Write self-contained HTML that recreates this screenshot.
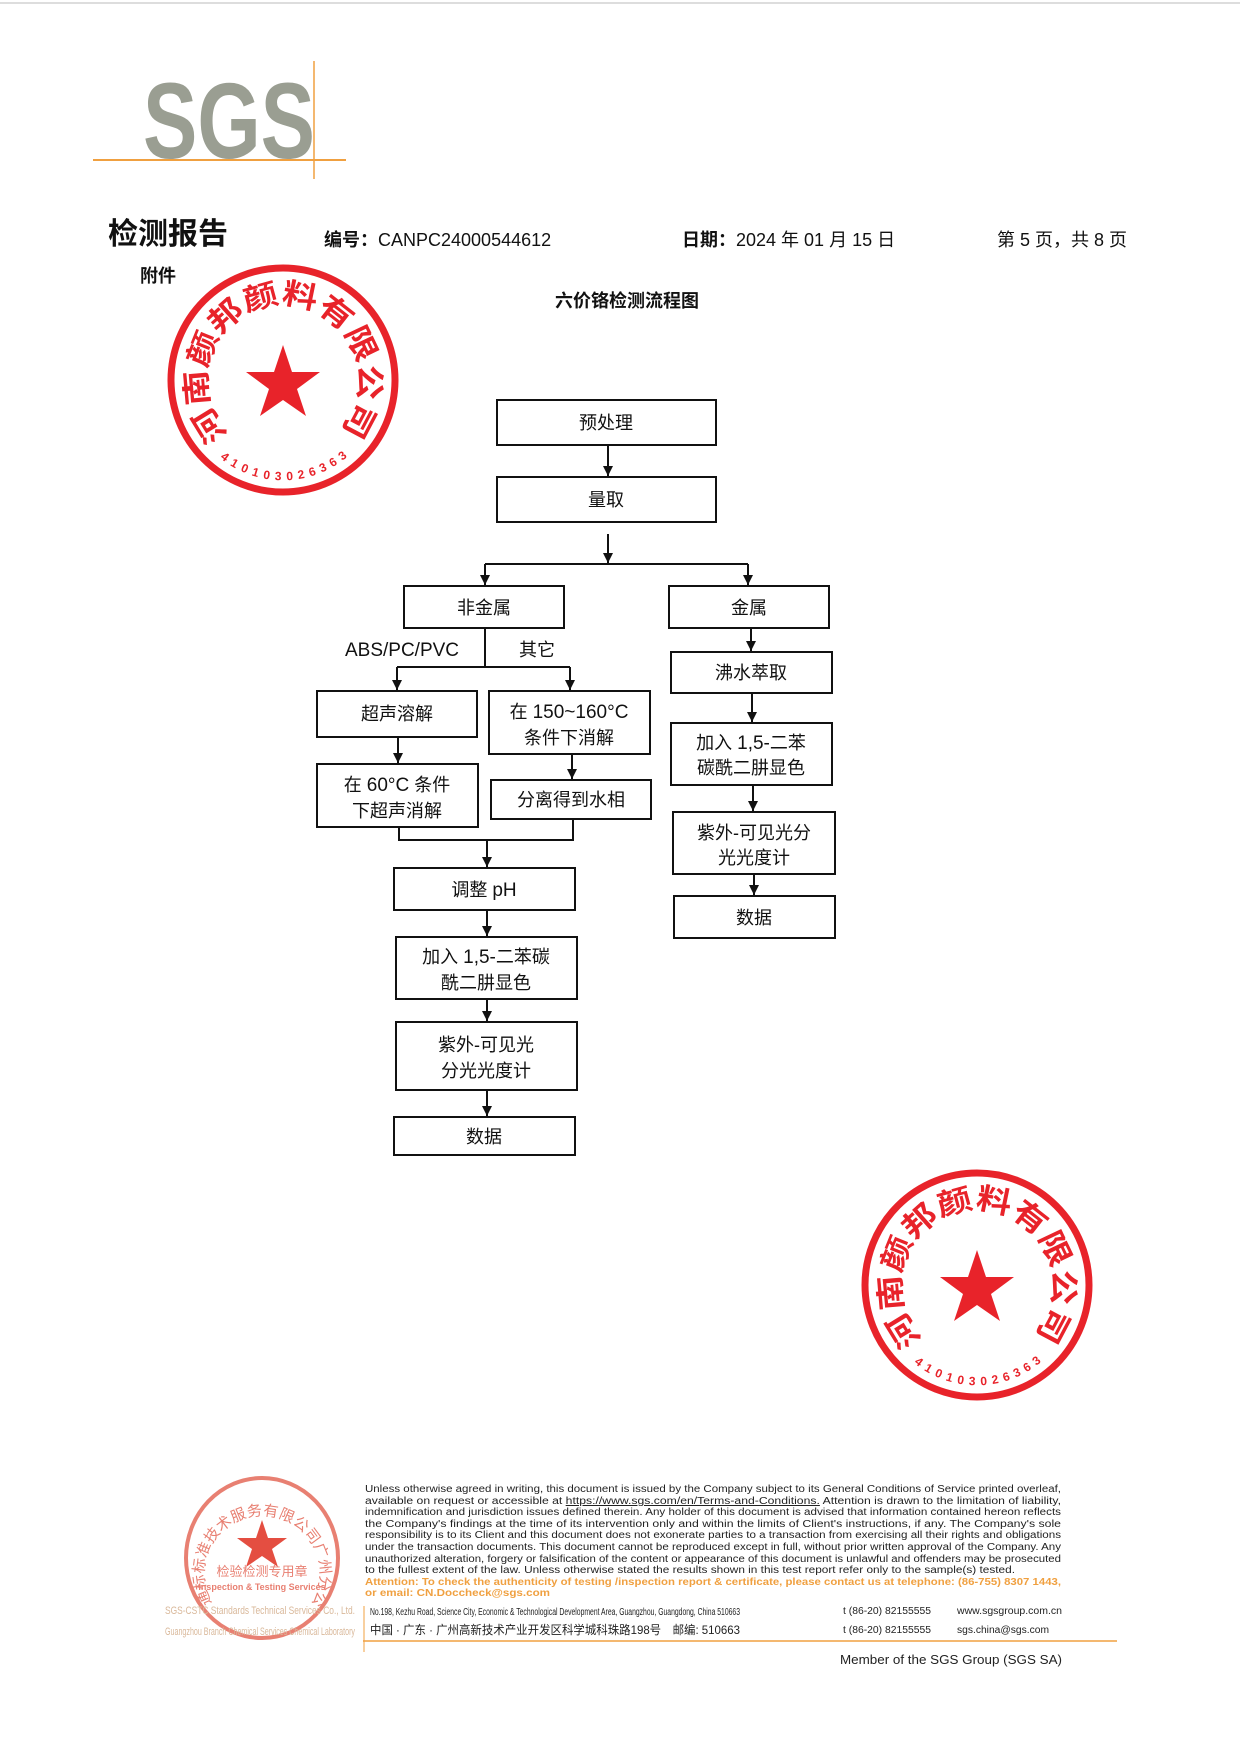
<!DOCTYPE html>
<html><head><meta charset="utf-8">
<style>
html,body{margin:0;padding:0;background:#fff;}
svg{display:block;}
.cn{font-family:"Liberation Sans","Noto Sans CJK SC",sans-serif;}
</style></head>
<body>
<svg width="1240" height="1752" viewBox="0 0 1240 1752" xmlns="http://www.w3.org/2000/svg" class="cn">
<defs>
<marker id="ar" markerWidth="10" markerHeight="10" refX="10" refY="5" orient="auto" markerUnits="userSpaceOnUse">
<path d="M0,0 L10,5 L0,10 Z" fill="#111"/>
</marker>
<path id="arcL" d="M 229 434 A 76 76 0 1 1 337 434"/>
<path id="arcLb" d="M 220 458 A 100 100 0 0 0 346 458"/>
<path id="arcR" d="M 923 1339 A 76 76 0 1 1 1031 1339"/>
<path id="arcRb" d="M 914 1363 A 100 100 0 0 0 1040 1363"/>
<path id="arcF" d="M 212 1603 A 58 58 0 1 1 312 1603"/>
</defs>
<rect width="1240" height="1752" fill="#fff"/>
<line x1="0" y1="3" x2="1240" y2="3" stroke="#ddd" stroke-width="2"/>

<!-- SGS logo -->
<text x="143" y="158" font-family="Liberation Sans" font-weight="bold" font-size="108" fill="#9a9e92" textLength="172" lengthAdjust="spacingAndGlyphs">SGS</text>
<line x1="93" y1="160" x2="346" y2="160" stroke="#f0a040" stroke-width="2"/>
<line x1="314" y1="61" x2="314" y2="179" stroke="#f0a040" stroke-width="1.5"/>

<!-- header -->
<text x="108" y="244" font-size="30" font-weight="bold" fill="#111">检测报告</text>
<text x="324" y="246" font-size="18" fill="#111"><tspan font-weight="bold">编号：</tspan>CANPC24000544612</text>
<text x="682" y="246" font-size="18" fill="#111"><tspan font-weight="bold">日期：</tspan>2024 年 01 月 15 日</text>
<text x="997" y="246" font-size="18" fill="#111">第 5 页，共 8 页</text>
<text x="140" y="282" font-size="18" font-weight="bold" fill="#111">附件</text>
<text x="627" y="307" font-size="18" font-weight="bold" fill="#111" text-anchor="middle">六价铬检测流程图</text>

<!-- flowchart -->
<g fill="none" stroke="#111" stroke-width="2">
<rect x="497" y="400" width="219" height="45"/>
<rect x="497" y="477" width="219" height="45"/>
<rect x="404" y="586" width="160" height="42"/>
<rect x="669" y="586" width="160" height="42"/>
<rect x="317" y="691" width="160" height="46"/>
<rect x="489" y="691" width="161" height="63"/>
<rect x="317" y="764" width="161" height="63"/>
<rect x="491" y="780" width="160" height="39"/>
<rect x="394" y="868" width="181" height="42"/>
<rect x="396" y="937" width="181" height="62"/>
<rect x="396" y="1022" width="181" height="68"/>
<rect x="394" y="1117" width="181" height="38"/>
<rect x="671" y="652" width="161" height="41"/>
<rect x="671" y="723" width="161" height="62"/>
<rect x="673" y="812" width="162" height="62"/>
<rect x="674" y="896" width="161" height="42"/>
</g>
<g stroke="#111" stroke-width="2" fill="none" marker-end="url(#ar)">
<line x1="608" y1="445" x2="608" y2="476"/>
<line x1="608" y1="534" x2="608" y2="563"/>
<line x1="485" y1="564" x2="485" y2="585"/>
<line x1="748" y1="564" x2="748" y2="585"/>
<line x1="397" y1="667" x2="397" y2="690"/>
<line x1="570" y1="667" x2="570" y2="690"/>
<line x1="398" y1="737" x2="398" y2="763"/>
<line x1="572" y1="754" x2="572" y2="779"/>
<line x1="487" y1="840" x2="487" y2="867"/>
<line x1="487" y1="910" x2="487" y2="936"/>
<line x1="487" y1="999" x2="487" y2="1021"/>
<line x1="487" y1="1090" x2="487" y2="1116"/>
<line x1="751" y1="628" x2="751" y2="651"/>
<line x1="752" y1="693" x2="752" y2="722"/>
<line x1="753" y1="785" x2="753" y2="811"/>
<line x1="754" y1="874" x2="754" y2="895"/>
</g>
<g stroke="#111" stroke-width="2" fill="none">
<line x1="485" y1="564" x2="748" y2="564"/>
<line x1="485" y1="628" x2="485" y2="667"/>
<line x1="397" y1="667" x2="570" y2="667"/>
<polyline points="399,827 399,840 573,840 573,819"/>
</g>
<g font-size="18" fill="#111" text-anchor="middle">
<text x="606" y="429">预处理</text>
<text x="606" y="506">量取</text>
<text x="484" y="614">非金属</text>
<text x="749" y="614">金属</text>
<text x="402" y="656" font-size="19">ABS/PC/PVC</text>
<text x="537" y="656">其它</text>
<text x="397" y="720">超声溶解</text>
<text x="569" y="718">在 <tspan font-size="19">150~160°C</tspan></text>
<text x="569" y="744">条件下消解</text>
<text x="397" y="791">在 <tspan font-size="19">60°C</tspan> 条件</text>
<text x="397" y="817">下超声消解</text>
<text x="571" y="806">分离得到水相</text>
<text x="484" y="896">调整 <tspan font-size="19">pH</tspan></text>
<text x="486" y="963">加入 <tspan font-size="19">1,5-</tspan>二苯碳</text>
<text x="486" y="989">酰二肼显色</text>
<text x="486" y="1051">紫外-可见光</text>
<text x="486" y="1077">分光光度计</text>
<text x="484" y="1143">数据</text>
<text x="751" y="679">沸水萃取</text>
<text x="751" y="749">加入 <tspan font-size="19">1,5-</tspan>二苯</text>
<text x="751" y="774">碳酰二肼显色</text>
<text x="754" y="839">紫外-可见光分</text>
<text x="754" y="864">光光度计</text>
<text x="754" y="924">数据</text>
</g>

<!-- left stamp -->
<g fill="#e8232a" stroke="none">
<circle cx="283" cy="380" r="112" fill="none" stroke="#e8232a" stroke-width="7"/>
<polygon points="283,345 292,372 320,372 297,389 306,416 283,400 260,416 269,389 246,372 274,372"/>
<text font-size="30" font-weight="bold"><textPath href="#arcL" textLength="352" lengthAdjust="spacingAndGlyphs">河南颜邦颜料有限公司</textPath></text>
<text font-size="12" font-weight="bold"><textPath href="#arcLb" textLength="150">4101030263637</textPath></text>
</g>
<!-- right stamp -->
<g fill="#e8232a" stroke="none">
<circle cx="977" cy="1285" r="112" fill="none" stroke="#e8232a" stroke-width="7"/>
<polygon points="977,1250 986,1277 1014,1277 991,1294 1000,1321 977,1305 954,1321 963,1294 940,1277 968,1277"/>
<text font-size="30" font-weight="bold"><textPath href="#arcR" textLength="352" lengthAdjust="spacingAndGlyphs">河南颜邦颜料有限公司</textPath></text>
<text font-size="12" font-weight="bold"><textPath href="#arcRb" textLength="150">4101030263637</textPath></text>
</g>
<!-- footer stamp -->
<g fill="#e46a5a" stroke="none" opacity="0.85">
<ellipse cx="262" cy="1558" rx="76" ry="80" fill="none" stroke="#e46a5a" stroke-width="4"/>
<polygon points="262,1520 268,1538 287,1538 272,1549 278,1567 262,1556 246,1567 252,1549 237,1538 256,1538" fill="#e03020"/>
<text font-size="15"><textPath href="#arcF" textLength="260">通标标准技术服务有限公司广州分公司</textPath></text>
<text x="262" y="1576" font-size="13" text-anchor="middle">检验检测专用章</text>
<text x="262" y="1590" font-size="9" text-anchor="middle" font-weight="bold">Inspection &amp; Testing Services</text>
</g>
<g fill="#d9b89a" font-size="11">
<text x="165" y="1614" textLength="190" lengthAdjust="spacingAndGlyphs">SGS-CSTC Standards Technical Services Co., Ltd.</text>
<text x="165" y="1635" textLength="190" lengthAdjust="spacingAndGlyphs">Guangzhou Branch Chemical Services Chemical Laboratory</text>
</g>

<!-- footer text -->
<g font-size="10" fill="#222">
<text x="365" y="1492" textLength="696" lengthAdjust="spacingAndGlyphs">Unless otherwise agreed in writing, this document is issued by the Company subject to its General Conditions of Service printed overleaf,</text>
<text x="365" y="1504" textLength="696" lengthAdjust="spacingAndGlyphs">available on request or accessible at <tspan text-decoration="underline">https://www.sgs.com/en/Terms-and-Conditions.</tspan> Attention is drawn to the limitation of liability,</text>
<text x="365" y="1515" textLength="696" lengthAdjust="spacingAndGlyphs">indemnification and jurisdiction issues defined therein. Any holder of this document is advised that information contained hereon reflects</text>
<text x="365" y="1527" textLength="696" lengthAdjust="spacingAndGlyphs">the Company's findings at the time of its intervention only and within the limits of Client's instructions, if any. The Company's sole</text>
<text x="365" y="1538" textLength="696" lengthAdjust="spacingAndGlyphs">responsibility is to its Client and this document does not exonerate parties to a transaction from exercising all their rights and obligations</text>
<text x="365" y="1550" textLength="696" lengthAdjust="spacingAndGlyphs">under the transaction documents. This document cannot be reproduced except in full, without prior written approval of the Company. Any</text>
<text x="365" y="1562" textLength="696" lengthAdjust="spacingAndGlyphs">unauthorized alteration, forgery or falsification of the content or appearance of this document is unlawful and offenders may be prosecuted</text>
<text x="365" y="1573" textLength="650" lengthAdjust="spacingAndGlyphs">to the fullest extent of the law. Unless otherwise stated the results shown in this test report refer only to the sample(s) tested.</text>
<text x="365" y="1585" textLength="696" lengthAdjust="spacingAndGlyphs" fill="#f0a040" font-weight="bold">Attention: To check the authenticity of testing /inspection report &amp; certificate, please contact us at telephone: (86-755) 8307 1443,</text>
<text x="365" y="1596" textLength="185" lengthAdjust="spacingAndGlyphs" fill="#f0a040" font-weight="bold">or email: CN.Doccheck@sgs.com</text>
<text x="370" y="1615" textLength="370" lengthAdjust="spacingAndGlyphs">No.198, Kezhu Road, Science City, Economic &amp; Technological Development Area, Guangzhou, Guangdong, China 510663</text>
<text x="370" y="1634" font-size="12" textLength="370" lengthAdjust="spacingAndGlyphs">中国 · 广东 · 广州高新技术产业开发区科学城科珠路198号　邮编: 510663</text>
<text x="843" y="1614" textLength="88" lengthAdjust="spacingAndGlyphs">t (86-20) 82155555</text>
<text x="843" y="1633" textLength="88" lengthAdjust="spacingAndGlyphs">t (86-20) 82155555</text>
<text x="957" y="1614" textLength="105" lengthAdjust="spacingAndGlyphs">www.sgsgroup.com.cn</text>
<text x="957" y="1633" textLength="92" lengthAdjust="spacingAndGlyphs">sgs.china@sgs.com</text>
</g>
<line x1="363" y1="1641" x2="1117" y2="1641" stroke="#f0a040" stroke-width="1.5"/>
<line x1="364" y1="1606" x2="364" y2="1652" stroke="#f0a040" stroke-width="1"/>
<text x="840" y="1664" font-size="13" fill="#222" textLength="222" lengthAdjust="spacingAndGlyphs">Member of the SGS Group (SGS SA)</text>
</svg>
</body></html>
